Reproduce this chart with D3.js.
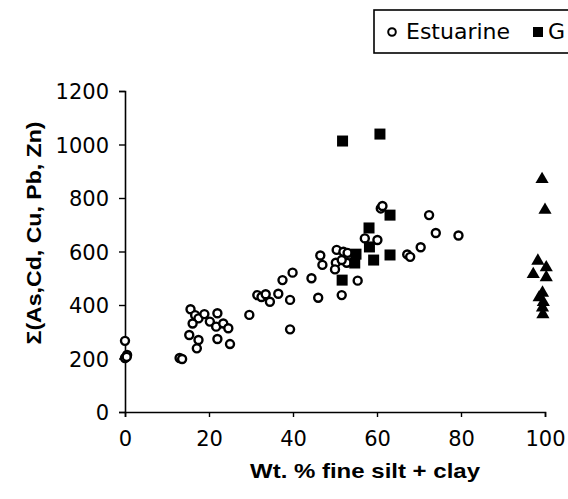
<!DOCTYPE html>
<html><head><meta charset="utf-8">
<script src="https://cdn.jsdelivr.net/npm/d3@7"></script>
<style>body{margin:0;background:#fff}svg{display:block}</style>
</head><body>
<svg id="c" width="568" height="499"></svg>
<script>
const xTicks = [0, 20, 40, 60, 80, 100];
const yTicks = [0, 200, 400, 600, 800, 1000, 1200];
const seriesNames = ["Estuarine", "G"];
const estuarine = [
  [0,266],[0.5,213],[0,202],[0.4,206],
  [13,202],[13.6,198],
  [15.6,384],[16.7,362],[17.5,350],[18.9,366],[16.1,331],[15.3,288],[17.5,269],[17.1,238],
  [20.2,338],[22,369],[21.7,319],[23.4,331],[24.6,313],[22,273],[25,254],[29.6,363],
  [31.5,437],[32.5,430],[33.5,440],[34.5,412],[36.5,442],[37.5,493],[39.9,521],[39.3,419],
  [39.3,309],[44.4,500],[46,427],[46.5,585],[47,550],[51.6,437],[55.4,491],
  [50.4,606],[50.2,558],[50,533],[52.8,558],[52,599],[51.6,568],[53,595],[57.1,649],
  [60.1,643],[60.9,761],[61.3,770],[67.2,589],[67.9,580],[70.4,616],[72.4,736],[74,669],[79.4,660]
];
const glacial = [
  [51.8,1013],[60.7,1039],[63.1,736],[58.1,688],[58.2,617],[55,590],[54.7,557],[59.2,568],[63.1,587],[51.7,493]
];
const fluvial = [
  [99.3,870],[100,755],[98.3,565],[97.2,515],[100.3,540],[100.3,503],[99.4,445],[98.6,428],[99.6,410],[99.4,390],[99.5,365]
];

const svg = d3.select("#c");
const x = d3.scaleLinear().domain([0, 100]).range([125, 545]);
const y = d3.scaleLinear().domain([0, 1200]).range([412, 91]);
const tickFont = "DejaVu Sans, sans-serif";
const titleFont = "Liberation Sans, Arial, sans-serif";

const gx = svg.append("g").attr("transform", `translate(0,${y(0)})`)
  .call(d3.axisBottom(x).tickValues(xTicks).tickSize(5).tickPadding(14).tickFormat(d3.format("d")));
const gy = svg.append("g").attr("transform", `translate(${x(0)},0)`)
  .call(d3.axisLeft(y).tickValues(yTicks).tickSize(6).tickPadding(10).tickFormat(d3.format("d")));
[gx, gy].forEach(g => {
  g.select(".domain").attr("stroke", "#000").attr("stroke-width", 1.6);
  g.selectAll(".tick line").attr("stroke", "#000").attr("stroke-width", 1.4);
  g.selectAll(".tick text").attr("fill", "#000").style("font-family", tickFont).style("font-size", "21px");
});
gy.selectAll(".tick text").attr("dy", "0.36em");

// axis titles
svg.append("text").attr("x", 365).attr("y", 478).attr("text-anchor", "middle")
  .attr("textLength", 230).attr("lengthAdjust", "spacingAndGlyphs")
  .style("font-family", titleFont).style("font-weight", "bold").style("font-size", "21px")
  .text("Wt. % fine silt + clay");
svg.append("text").attr("transform", "translate(41,233) rotate(-90)").attr("text-anchor", "middle")
  .attr("textLength", 223).attr("lengthAdjust", "spacingAndGlyphs")
  .style("font-family", titleFont).style("font-weight", "bold").style("font-size", "21px")
  .text("Σ(As,Cd, Cu, Pb, Zn)");

// marks
svg.append("g").selectAll("circle").data(estuarine).join("circle")
  .attr("cx", d => x(d[0])).attr("cy", d => y(d[1])).attr("r", 4)
  .attr("fill", "#fff").attr("stroke", "#000").attr("stroke-width", 2.4);
svg.append("g").selectAll("rect").data(glacial).join("rect")
  .attr("x", d => x(d[0]) - 5.5).attr("y", d => y(d[1]) - 5.5).attr("width", 11).attr("height", 11)
  .attr("fill", "#000");
const tri = d3.symbol().type(d3.symbolTriangle).size(75);
svg.append("g").selectAll("path").data(fluvial).join("path")
  .attr("transform", d => `translate(${x(d[0])},${y(d[1])})`).attr("d", tri).attr("fill", "#000");

// legend
const lg = svg.append("g");
lg.append("rect").attr("x", 374).attr("y", 10).attr("width", 400).attr("height", 43)
  .attr("fill", "#fff").attr("stroke", "#000").attr("stroke-width", 1.6);
lg.append("circle").attr("cx", 392).attr("cy", 32).attr("r", 3.8).attr("fill", "#fff").attr("stroke", "#000").attr("stroke-width", 2);
lg.append("text").attr("x", 406).attr("y", 39).style("font-family", tickFont).style("font-size", "22px").text(seriesNames[0]);
lg.append("rect").attr("x", 533).attr("y", 27).attr("width", 10).attr("height", 10).attr("fill", "#000");
lg.append("text").attr("x", 548).attr("y", 39).style("font-family", tickFont).style("font-size", "22px").text(seriesNames[1]);
</script>
</body></html>
